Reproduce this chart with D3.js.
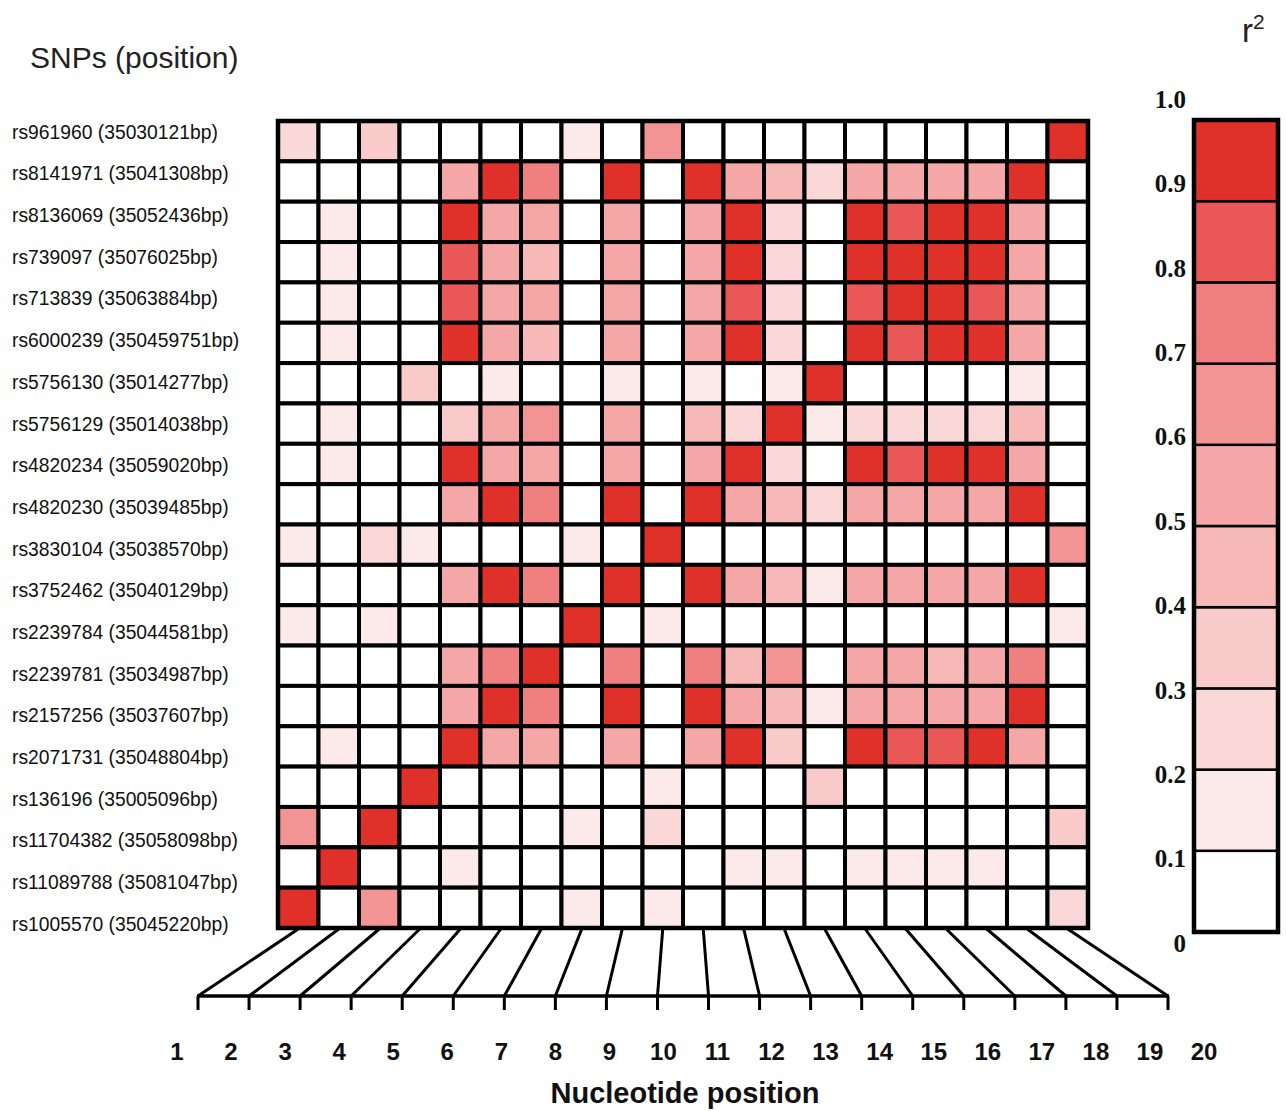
<!DOCTYPE html>
<html>
<head>
<meta charset="utf-8">
<script src="https://cdn.jsdelivr.net/npm/d3@7"></script>
<style>
  html, body { margin: 0; padding: 0; background: #fff; }
  svg { display: block; }
</style>
</head>
<body>
<svg id="chart" width="1287" height="1111"></svg>
<script>
// ---------- DATA ----------
const snps = [
  "rs961960 (35030121bp)",
  "rs8141971 (35041308bp)",
  "rs8136069 (35052436bp)",
  "rs739097 (35076025bp)",
  "rs713839 (35063884bp)",
  "rs6000239 (350459751bp)",
  "rs5756130 (35014277bp)",
  "rs5756129 (35014038bp)",
  "rs4820234 (35059020bp)",
  "rs4820230 (35039485bp)",
  "rs3830104 (35038570bp)",
  "rs3752462 (35040129bp)",
  "rs2239784 (35044581bp)",
  "rs2239781 (35034987bp)",
  "rs2157256 (35037607bp)",
  "rs2071731 (35048804bp)",
  "rs136196 (35005096bp)",
  "rs11704382 (35058098bp)",
  "rs11089788 (35081047bp)",
  "rs1005570 (35045220bp)"
];

const positions = d3.range(1, 21); // nucleotide positions 1..20

// r² values, one row per SNP, columns = positions 1..20
const r2Values = [
  [0.25,0,0.35,0,0,0,0,0.15,0,0.65,0,0,0,0,0,0,0,0,0,0.95],
  [0,0,0,0,0.55,0.95,0.75,0,0.95,0,0.95,0.55,0.45,0.25,0.55,0.55,0.55,0.55,0.95,0],
  [0,0.15,0,0,0.95,0.55,0.55,0,0.55,0,0.55,0.95,0.25,0,0.95,0.85,0.95,0.95,0.55,0],
  [0,0.15,0,0,0.85,0.55,0.45,0,0.55,0,0.55,0.95,0.25,0,0.95,0.95,0.95,0.95,0.55,0],
  [0,0.15,0,0,0.85,0.55,0.55,0,0.55,0,0.55,0.85,0.25,0,0.85,0.95,0.95,0.85,0.55,0],
  [0,0.15,0,0,0.95,0.55,0.45,0,0.55,0,0.55,0.95,0.25,0,0.95,0.85,0.95,0.95,0.55,0],
  [0,0,0,0.35,0,0.15,0,0,0.15,0,0.15,0,0.15,0.95,0,0,0,0,0.15,0],
  [0,0.15,0,0,0.35,0.55,0.65,0,0.55,0,0.45,0.25,0.95,0.15,0.25,0.25,0.25,0.25,0.45,0],
  [0,0.15,0,0,0.95,0.55,0.55,0,0.55,0,0.55,0.95,0.25,0,0.95,0.85,0.95,0.95,0.55,0],
  [0,0,0,0,0.55,0.95,0.75,0,0.95,0,0.95,0.55,0.45,0.25,0.55,0.55,0.55,0.55,0.95,0],
  [0.15,0,0.25,0.15,0,0,0,0.15,0,0.95,0,0,0,0,0,0,0,0,0,0.65],
  [0,0,0,0,0.55,0.95,0.75,0,0.95,0,0.95,0.55,0.45,0.15,0.55,0.55,0.55,0.55,0.95,0],
  [0.15,0,0.15,0,0,0,0,0.95,0,0.15,0,0,0,0,0,0,0,0,0,0.15],
  [0,0,0,0,0.55,0.75,0.95,0,0.75,0,0.75,0.45,0.65,0,0.55,0.55,0.45,0.55,0.75,0],
  [0,0,0,0,0.55,0.95,0.75,0,0.95,0,0.95,0.55,0.45,0.15,0.55,0.55,0.55,0.55,0.95,0],
  [0,0.15,0,0,0.95,0.55,0.55,0,0.55,0,0.55,0.95,0.35,0,0.95,0.85,0.85,0.95,0.55,0],
  [0,0,0,0.95,0,0,0,0,0,0.15,0,0,0,0.35,0,0,0,0,0,0],
  [0.65,0,0.95,0,0,0,0,0.15,0,0.25,0,0,0,0,0,0,0,0,0,0.35],
  [0,0.95,0,0,0.15,0,0,0,0,0,0,0.15,0.15,0,0.15,0.15,0.15,0.15,0,0],
  [0.95,0,0.65,0,0,0,0,0.15,0,0.15,0,0,0,0,0,0,0,0,0,0.25]
];

const legendThresholds = [0.1,0.2,0.3,0.4,0.5,0.6,0.7,0.8,0.9];
const legendColors = ["#ffffff","#fce9e9","#fad8d8","#f9caca","#f7b8b8","#f5a6a6","#f39494","#f08080","#ea5757","#e0302a"];
const legendTickLabels = ["0","0.1","0.2","0.3","0.4","0.5","0.6","0.7","0.8","0.9","1.0"];
const legendTickValues = [0,0.1,0.2,0.3,0.4,0.5,0.6,0.7,0.8,0.9,1.0];

// ---------- CHART ----------
const svg = d3.select("#chart");

const color = d3.scaleThreshold().domain(legendThresholds).range(legendColors);

const x = d3.scaleBand().domain(positions).range([278, 1088]).padding(0);
const y = d3.scaleBand().domain(snps).range([121, 928]).padding(0);
const labelY = d3.scalePoint().domain(snps).range([132, 924]);

// Title
svg.append("text")
  .attr("x", 30).attr("y", 68)
  .attr("font-family", "Liberation Sans, Arial, sans-serif")
  .attr("font-size", 30)
  .attr("fill", "#222")
  .text("SNPs (position)");

// Row labels
svg.append("g").selectAll("text")
  .data(snps).join("text")
  .attr("x", 12)
  .attr("y", d => labelY(d))
  .attr("dy", "0.35em")
  .attr("font-family", "Liberation Sans, Arial, sans-serif")
  .attr("font-size", 19.3)
  .attr("fill", "#111")
  .text(d => d);

// Cells
const cells = [];
snps.forEach((s, i) => positions.forEach((p, j) => cells.push({snp: s, pos: p, v: r2Values[i][j]})));

svg.append("g").selectAll("rect")
  .data(cells).join("rect")
  .attr("x", d => x(d.pos))
  .attr("y", d => y(d.snp))
  .attr("width", x.bandwidth())
  .attr("height", y.bandwidth())
  .attr("fill", d => color(d.v))
  .attr("stroke", "#000")
  .attr("stroke-width", 4);

svg.append("rect")
  .attr("x", 278).attr("y", 121)
  .attr("width", 810).attr("height", 807)
  .attr("fill", "none").attr("stroke", "#000").attr("stroke-width", 4.5);

// Fan lines to the nucleotide axis
const xTick = d3.scalePoint().domain(positions).range([198, 1168]);
const baseY = 996;
svg.append("g").selectAll("line")
  .data(positions).join("line")
  .attr("x1", d => x(d) + x.bandwidth() / 2)
  .attr("y1", 929)
  .attr("x2", d => xTick(d))
  .attr("y2", baseY)
  .attr("stroke", "#000").attr("stroke-width", 3);

svg.append("line")
  .attr("x1", 197).attr("x2", 1169)
  .attr("y1", baseY).attr("y2", baseY)
  .attr("stroke", "#000").attr("stroke-width", 3.5);

svg.append("g").selectAll("line")
  .data(positions).join("line")
  .attr("x1", d => xTick(d)).attr("x2", d => xTick(d))
  .attr("y1", baseY).attr("y2", 1010)
  .attr("stroke", "#000").attr("stroke-width", 3);

// Nucleotide position labels
const xLabel = d3.scalePoint().domain(positions).range([177, 1204]);
svg.append("g").selectAll("text")
  .data(positions).join("text")
  .attr("x", d => xLabel(d))
  .attr("y", 1060)
  .attr("text-anchor", "middle")
  .attr("font-family", "Liberation Sans, Arial, sans-serif")
  .attr("font-weight", "bold")
  .attr("font-size", 24)
  .attr("fill", "#111")
  .text(d => d);

svg.append("text")
  .attr("x", 685).attr("y", 1103)
  .attr("text-anchor", "middle")
  .attr("font-family", "Liberation Sans, Arial, sans-serif")
  .attr("font-weight", "bold")
  .attr("font-size", 29)
  .attr("fill", "#111")
  .text("Nucleotide position");

// Legend
const legendScale = d3.scaleLinear().domain([0, 1]).range([932, 120]);
const legendLabelScale = d3.scaleLinear().domain([0, 1]).range([943, 99]);
const legendBins = legendColors.map((c, i) => ({lo: i / 10, hi: (i + 1) / 10, c}));

svg.append("g").selectAll("rect")
  .data(legendBins).join("rect")
  .attr("x", 1194)
  .attr("y", d => legendScale(d.hi))
  .attr("width", 84)
  .attr("height", d => legendScale(d.lo) - legendScale(d.hi))
  .attr("fill", d => d.c)
  .attr("stroke", "#000").attr("stroke-width", 2.5);

svg.append("rect")
  .attr("x", 1194).attr("y", 120)
  .attr("width", 84).attr("height", 812)
  .attr("fill", "none").attr("stroke", "#000").attr("stroke-width", 4.5);

svg.append("g").selectAll("text")
  .data(legendTickValues).join("text")
  .attr("x", 1186)
  .attr("y", d => legendLabelScale(d))
  .attr("dy", "0.35em")
  .attr("text-anchor", "end")
  .attr("font-family", "Liberation Serif, Times New Roman, serif")
  .attr("font-weight", "bold")
  .attr("font-size", 25)
  .attr("fill", "#111")
  .text((d, i) => legendTickLabels[i]);

// r² title
const r2 = svg.append("text")
  .attr("x", 1242).attr("y", 42)
  .attr("font-family", "Liberation Sans, Arial, sans-serif")
  .attr("font-size", 33)
  .attr("fill", "#222");
r2.append("tspan").text("r");
r2.append("tspan").attr("dy", -13).attr("font-size", 21).text("2");
</script>
</body>
</html>
